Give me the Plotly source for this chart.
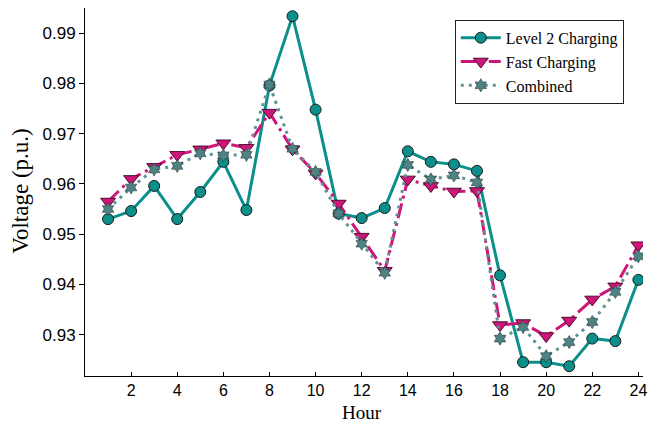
import plotly.graph_objects as go

hours = list(range(1, 25))
level2 = [0.9530, 0.9546, 0.9596, 0.9530, 0.9584, 0.9644, 0.9548, 0.9796, 0.9934, 0.9748,
          0.9541, 0.9532, 0.9552, 0.9665, 0.9644, 0.9639, 0.9626, 0.9418, 0.9245, 0.9245,
          0.9237, 0.9292, 0.9287, 0.9409]
fast = [0.9565, 0.9610, 0.9634, 0.9658, 0.9669, 0.9681, 0.9672, 0.9742, 0.9669, 0.9621,
        0.9561, 0.9495, 0.9427, 0.9609, 0.9596, 0.9585, 0.9586, 0.9319, 0.9323, 0.9297,
        0.9328, 0.9370, 0.9396, 0.9478]
combined = [0.9550, 0.9593, 0.9629, 0.9636, 0.9661, 0.9657, 0.9658, 0.9798, 0.9670, 0.9624,
            0.9541, 0.9481, 0.9423, 0.9638, 0.9609, 0.9617, 0.9603, 0.9292, 0.9315, 0.9257,
            0.9285, 0.9325, 0.9385, 0.9456]
x_ticks = [2, 4, 6, 8, 10, 12, 14, 16, 18, 20, 22, 24]
y_ticks = [0.93, 0.94, 0.95, 0.96, 0.97, 0.98, 0.99]

SERIF = "Times New Roman, Liberation Serif, serif"
SANS = "Arial, Liberation Sans, sans-serif"

fig = go.Figure()
fig.add_trace(go.Scatter(
    x=hours, y=level2, name="Level 2 Charging", mode="lines+markers",
    line=dict(color="#0B8F8A", width=3),
    marker=dict(symbol="circle", size=11, color="#0B8F8A", line=dict(color="#1a1a1a", width=1)),
))
fig.add_trace(go.Scatter(
    x=hours, y=fast, name="Fast Charging", mode="lines+markers",
    line=dict(color="#D0157A", width=3, dash="15px,5px,3px,5px"),
    marker=dict(symbol="triangle-down", size=13, color="#D0157A", line=dict(color="#4a1030", width=1)),
))
fig.add_trace(go.Scatter(
    x=hours, y=combined, name="Combined", mode="lines+markers",
    line=dict(color="#5E9293", width=3, dash="3px,5px"),
    marker=dict(symbol="hexagram", size=10, color="#4F8283", line=dict(color="#2a3a3a", width=0.6)),
))

# page body has an 8px margin, so the figure is sized/placed to compensate
fig.update_layout(
    width=653, height=415,
    margin=dict(l=77, r=18, t=0, b=47, autoexpand=False),
    paper_bgcolor="white", plot_bgcolor="white",
    showlegend=True,
    legend=dict(
        x=0.6627, y=0.968, xanchor="left", yanchor="top",
        bgcolor="white", bordercolor="#222222", borderwidth=1,
        font=dict(family=SERIF, size=16, color="black"),
        tracegroupgap=0, itemwidth=40,
    ),
    font=dict(family=SANS, size=16, color="black"),
    annotations=[
        dict(text="Hour", x=0.4956, y=-0.0979, xref="paper", yref="paper",
             showarrow=False, xanchor="center", yanchor="middle",
             font=dict(family=SERIF, size=19, color="black")),
        dict(text="Voltage (p.u.)", x=-0.1146, y=0.501, xref="paper", yref="paper",
             showarrow=False, xanchor="center", yanchor="middle", textangle=-90,
             font=dict(family=SERIF, size=23, color="black")),
    ],
)
fig.update_xaxes(
    range=[0, 24.2], tickvals=x_ticks, ticktext=[str(v) for v in x_ticks],
    ticks="inside", ticklen=4, tickcolor="black", automargin=False,
    showline=True, linecolor="black", linewidth=1, showgrid=False, zeroline=False,
    tickfont=dict(family=SANS, size=16),
)
fig.update_yaxes(
    range=[0.92175, 0.99504], tickvals=y_ticks, ticktext=[f"{v:.2f}" for v in y_ticks],
    ticks="outside", ticklen=5, tickcolor="black", automargin=False,
    showline=True, linecolor="black", linewidth=1, showgrid=False, zeroline=False,
    tickfont=dict(family=SANS, size=17),
)

fig.write_html("out.html")
